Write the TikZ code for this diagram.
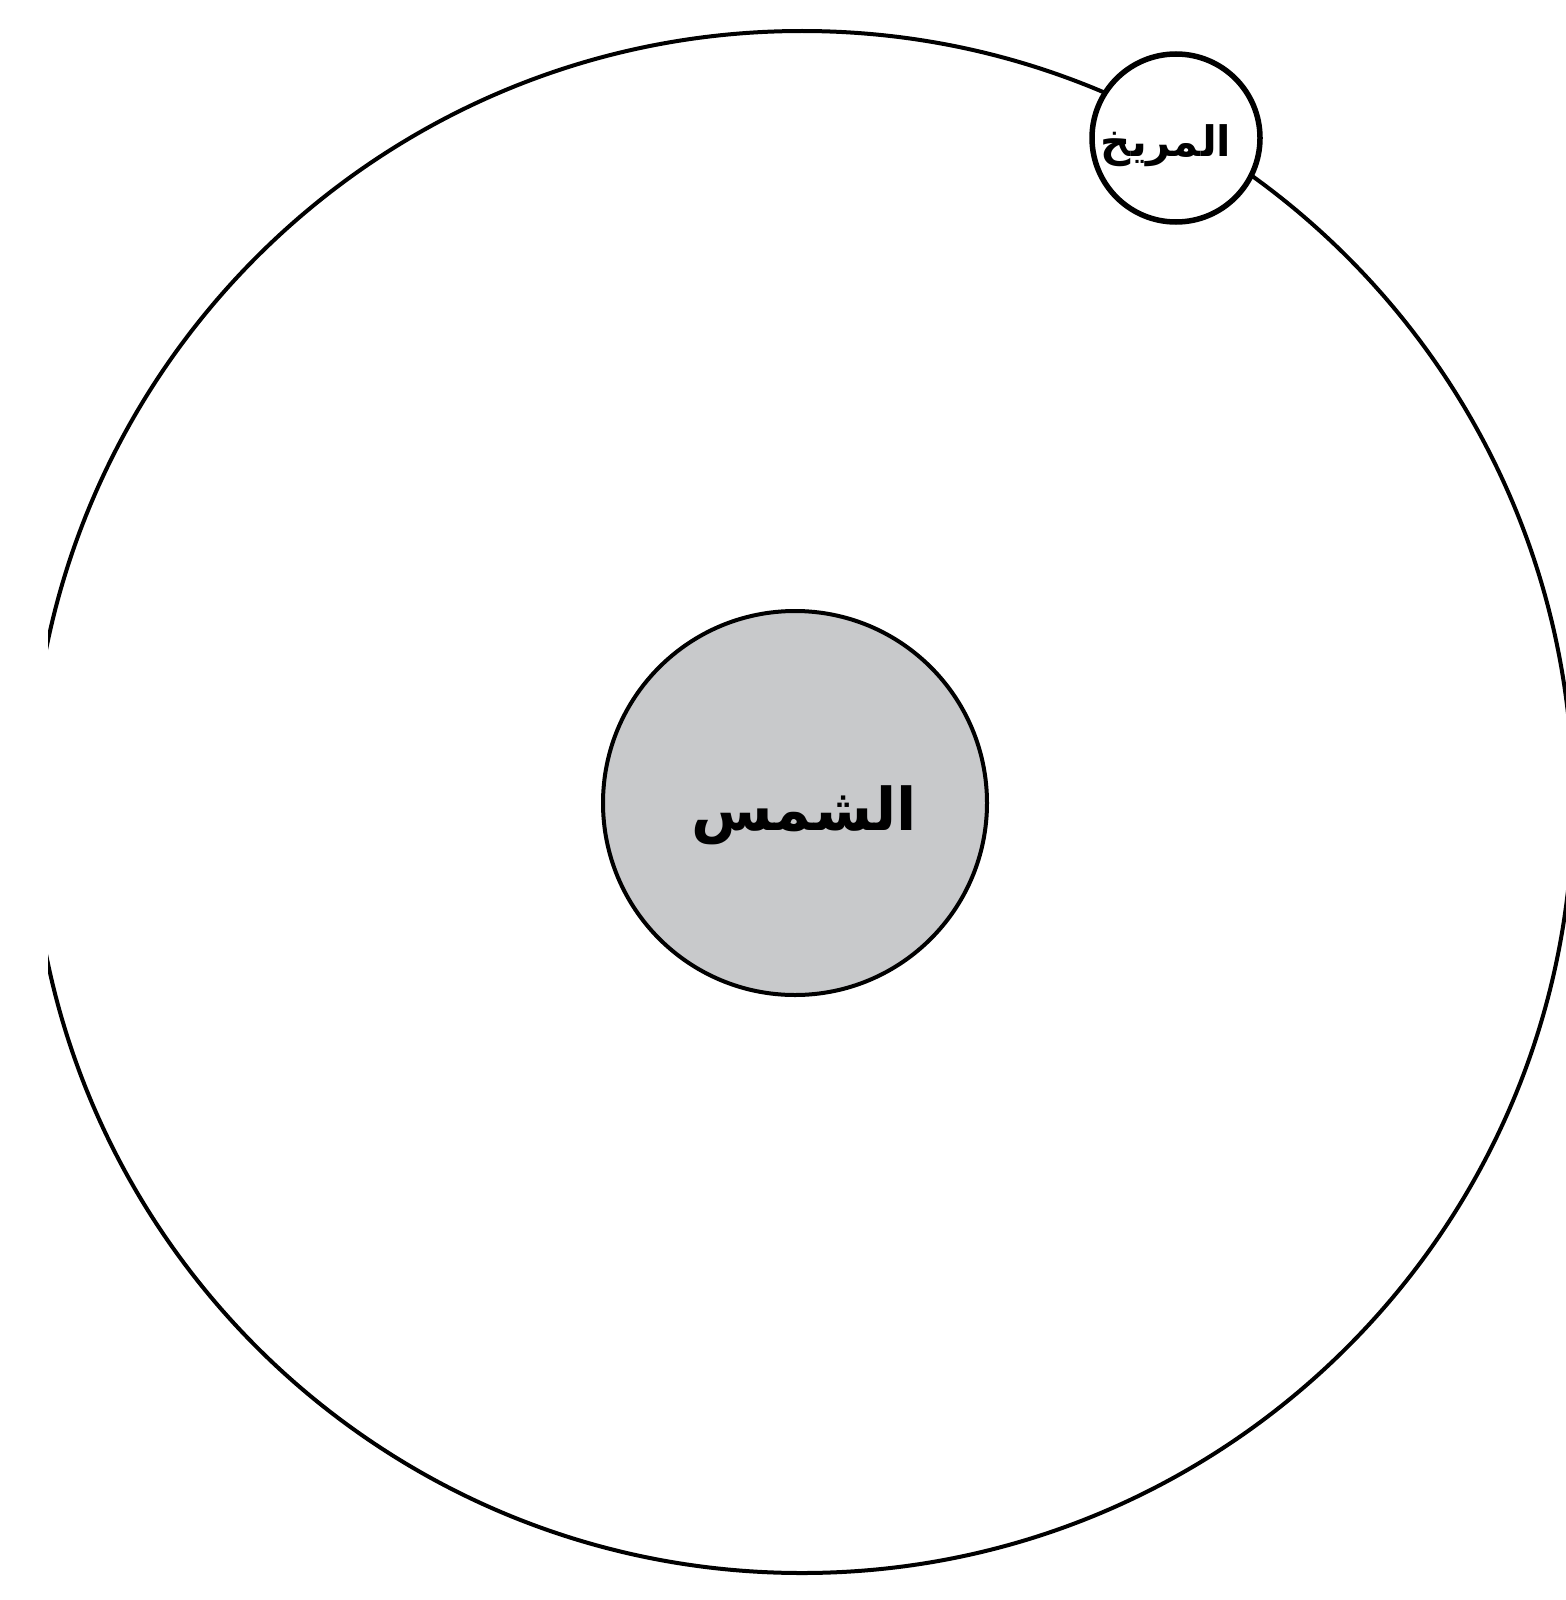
\documentclass[tikz,border=0pt]{standalone}
\usepackage{fontspec}
\TeXXeTstate=1
\newfontfamily\arabicfont[Script=Arabic]{DejaVu Sans}
\definecolor{sungray}{RGB}{200,201,203}
\tikzset{
  x=0.5pt, y=-0.5pt,
  orbitline/.style={line width=2pt, draw=black},
  sunbody/.style={circle, draw=black, line width=2pt, fill=sungray, minimum size=192pt, inner sep=0pt},
  planet/.style={circle, draw=black, line width=2.75pt, fill=white, minimum size=84pt, inner sep=0pt},
  sunfont/.style={font=\arabicfont\bfseries\fontsize{29.5}{31}\selectfont},
  marsfont/.style={font=\arabicfont\bfseries\fontsize{21}{23}\selectfont},
}
\begin{document}
\begin{tikzpicture}
\useasboundingbox (0,0) rectangle (1566,1600);
\begin{scope}
  \clip (48,0) rectangle (1566,1600);
  \draw[orbitline] (802,802) circle[radius=771];
\end{scope}
\node[sunbody] (sun) at (795,803) {};
\node[sunfont] (sunlabel) at (804,815) {\beginR الشمس\endR};
\node[planet] (mars) at (1176,138) {};
\node[marsfont] (marslabel) at (1166,146) {\beginR المريخ\endR};
\end{tikzpicture}
\end{document}
